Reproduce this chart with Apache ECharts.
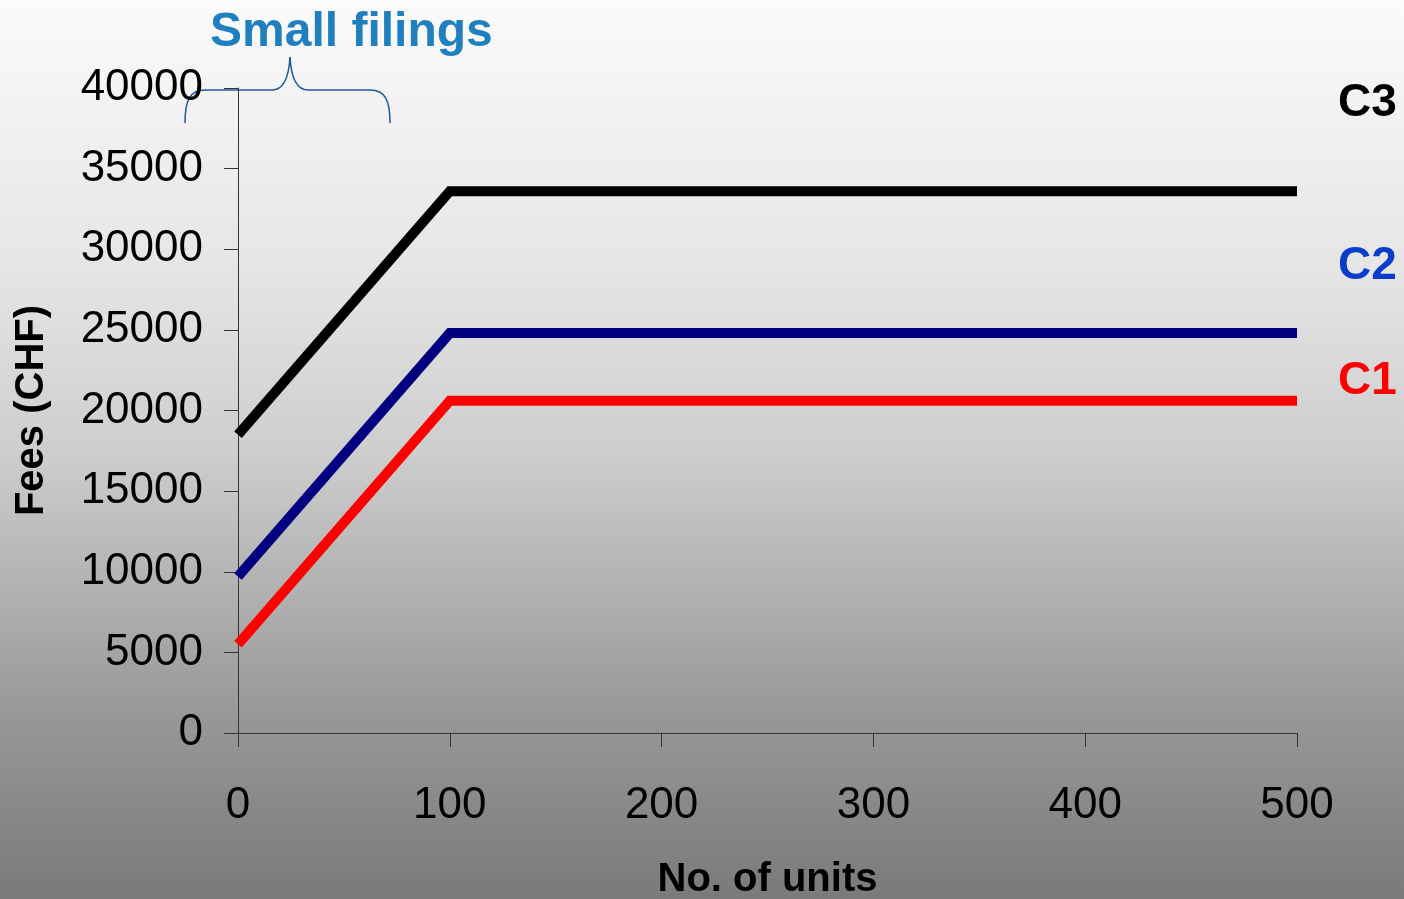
<!DOCTYPE html>
<html>
<head>
<meta charset="utf-8">
<script src="https://cdn.jsdelivr.net/npm/echarts@6/dist/echarts.min.js"></script>
<style>
html,body{margin:0;padding:0;width:1404px;height:899px;overflow:hidden;}
#chart{width:1404px;height:899px;}
</style>
</head>
<body>
<div id="chart"></div>
<script>
// ---- data ----
const units = [0, 100, 200, 300, 400, 500];
const c1 = [5500, 20600, 20600, 20600, 20600, 20600];
const c2 = [9700, 24800, 24800, 24800, 24800, 24800];
const c3 = [18500, 33600, 33600, 33600, 33600, 33600];
const seriesNames = ['C1', 'C2', 'C3'];
const yTicks = [0, 5000, 10000, 15000, 20000, 25000, 30000, 35000, 40000];
const xTicks = [0, 100, 200, 300, 400, 500];

const FONT = '"Liberation Sans", Arial, sans-serif';
const chart = echarts.init(document.getElementById('chart'), null, {renderer: 'canvas'});

function pairs(vals) { return units.map((u, i) => [u, vals[i]]); }

const braceStyle = {stroke: '#1f5a9a', lineWidth: 1.5, fill: null};
function bez(x1, y1, cx1, cy1, cx2, cy2, x2, y2) {
  return {type: 'bezierCurve', shape: {x1: x1, y1: y1, cpx1: cx1, cpy1: cy1, cpx2: cx2, cpy2: cy2, x2: x2, y2: y2}, style: braceStyle};
}
function seg(x1, y1, x2, y2) {
  return {type: 'line', shape: {x1: x1, y1: y1, x2: x2, y2: y2}, style: braceStyle};
}

const option = {
  backgroundColor: {
    type: 'linear', x: 0, y: 0, x2: 0, y2: 1,
    colorStops: [
      {offset: 0, color: '#fbfbfb'},
      {offset: 0.3, color: '#e5e5e5'},
      {offset: 0.5, color: '#cecece'},
      {offset: 0.8, color: '#979797'},
      {offset: 1, color: '#7a7a7a'}
    ]
  },
  animation: false,
  grid: {left: 238, right: 107, top: 88, bottom: 166, containLabel: false, outerBoundsMode: 'none'},
  xAxis: {
    type: 'value', min: xTicks[0], max: xTicks[xTicks.length - 1], interval: 100,
    name: 'No. of units', nameLocation: 'middle', nameGap: 127,
    nameTextStyle: {fontFamily: FONT, fontSize: 40, fontWeight: 'bold', color: '#000'},
    axisLine: {show: true, lineStyle: {color: '#333', width: 1}},
    axisTick: {show: true, length: 14, lineStyle: {color: '#333', width: 1}},
    axisLabel: {fontFamily: FONT, fontSize: 44, color: '#000', margin: 51, formatter: v => String(v)},
    splitLine: {show: false}
  },
  yAxis: {
    type: 'value', min: yTicks[0], max: yTicks[yTicks.length - 1], interval: 5000,
    name: 'Fees (CHF)', nameLocation: 'middle', nameGap: 186,
    nameTextStyle: {fontFamily: FONT, fontSize: 40, fontWeight: 'bold', color: '#000'},
    axisLine: {show: true, lineStyle: {color: '#333', width: 1}},
    axisTick: {show: true, length: 14, lineStyle: {color: '#333', width: 1}},
    axisLabel: {fontFamily: FONT, fontSize: 44, color: '#000', margin: 35, formatter: v => String(v)},
    splitLine: {show: false}
  },
  series: [
    {name: seriesNames[2], type: 'line', data: pairs(c3), symbol: 'none',
     lineStyle: {color: '#000000', width: 10, cap: 'butt', join: 'miter'}},
    {name: seriesNames[1], type: 'line', data: pairs(c2), symbol: 'none',
     lineStyle: {color: '#000080', width: 10, cap: 'butt', join: 'miter'}},
    {name: seriesNames[0], type: 'line', data: pairs(c1), symbol: 'none',
     lineStyle: {color: '#ff0000', width: 10, cap: 'butt', join: 'miter'}}
  ],
  graphic: [
    {type: 'text', x: 210, y: 9,
     style: {text: 'Small filings', font: 'bold 48px ' + FONT, fill: '#1f7fbf'}},
    bez(185, 123, 185, 100, 190, 90, 205, 90),
    seg(205, 90, 272, 90),
    bez(272, 90, 284, 90, 289, 75, 290, 57),
    bez(290, 57, 291, 75, 296, 90, 308, 90),
    seg(308, 90, 370, 90),
    bez(370, 90, 385, 90, 390, 100, 390, 123),
    {type: 'text', x: 1338, y: 80,
     style: {text: 'C3', font: 'bold 46px ' + FONT, fill: '#000000'}},
    {type: 'text', x: 1338, y: 243,
     style: {text: 'C2', font: 'bold 46px ' + FONT, fill: '#0a3ccc'}},
    {type: 'text', x: 1338, y: 358,
     style: {text: 'C1', font: 'bold 46px ' + FONT, fill: '#ff0000'}}
  ]
};
chart.setOption(option);
</script>
</body>
</html>
